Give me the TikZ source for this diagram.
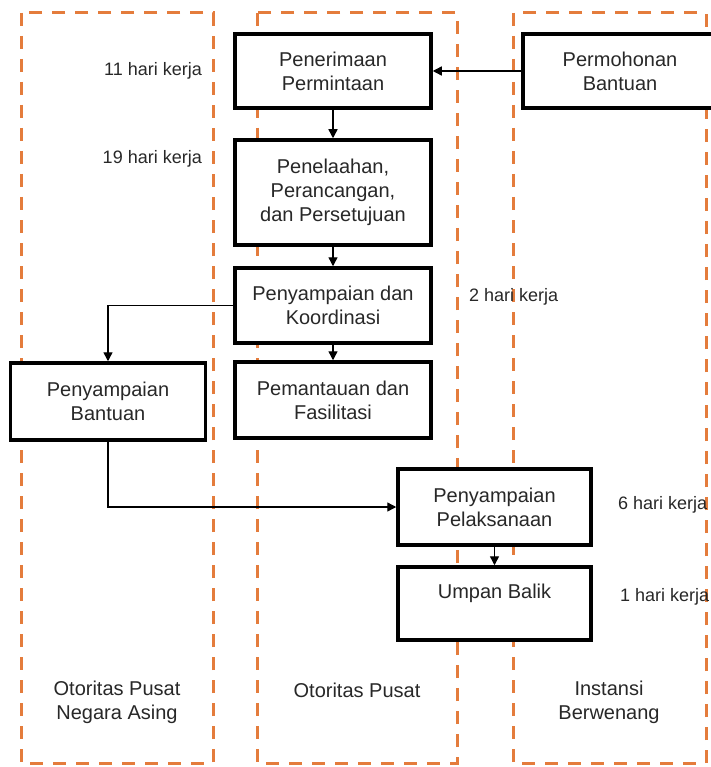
\documentclass[tikz,border=0pt]{standalone}
\usepackage{fontspec}
\setmainfont{Liberation Sans}
\usetikzlibrary{arrows.meta}
\definecolor{lanecol}{RGB}{228,124,60}
\definecolor{txtcol}{RGB}{40,40,40}
\begin{document}
\begin{tikzpicture}[x=1pt,y=-1pt,
  font=\fontsize{20}{24}\selectfont,
  lane/.style={draw=lanecol, line width=3pt, dash pattern=on 13pt off 10pt},
  procbox/.style={draw=black, line width=3.5pt, fill=white, text=txtcol,
    align=center, inner sep=0pt},
  tag/.style={text=txtcol, inner sep=0pt, font=\fontsize{18}{22}\selectfont},
  lanetitle/.style={text=txtcol, align=center, inner sep=0pt},
  flow/.style={draw=black, line width=1.4pt, -{Triangle[length=9pt,width=9pt]}}]
\useasboundingbox[fill=white] (0,0) rectangle (710,767);

% swimlanes
\draw[lane] (21,13) rectangle (213,763);
\draw[lane] (257,13) rectangle (457,763);
\draw[lane] (513,13) rectangle (706,763);

% process boxes
\node[procbox, minimum width=196pt, minimum height=74pt] (pen) at (333,71) {Penerimaan\\Permintaan};
\node[procbox, minimum width=194pt, minimum height=74pt] (moh) at (620,71) {Permohonan\\Bantuan};
\node[procbox, minimum width=196pt, minimum height=105pt] (tel) at (333,192.5) {Penelaahan,\\Perancangan,\\dan Persetujuan};
\node[procbox, minimum width=196pt, minimum height=75pt] (kor) at (333,305.5) {Penyampaian dan\\Koordinasi};
\node[procbox, minimum width=196pt, minimum height=76pt] (pem) at (333,400) {Pemantauan dan\\Fasilitasi};
\node[procbox, minimum width=195pt, minimum height=77pt] (ban) at (108,401.5) {Penyampaian\\Bantuan};
\node[procbox, minimum width=193pt, minimum height=76pt] (pel) at (494.5,507) {Penyampaian\\Pelaksanaan};
\node[procbox, minimum width=193pt, minimum height=73pt] (umb) at (494.5,603.5) {Umpan Balik\\\mbox{}};

% durations
\node[tag, anchor=east] (d1) at (202,71) {11 hari kerja};
\node[tag, anchor=east] (d2) at (202,159) {19 hari kerja};
\node[tag, anchor=west] (d3) at (469,297) {2 hari kerja};
\node[tag, anchor=west] (d4) at (618,505) {6 hari kerja};
\node[tag, anchor=west] (d5) at (620,597) {1 hari kerja};

% lane titles
\node[lanetitle] (t1) at (117,702) {Otoritas Pusat\\Negara Asing};
\node[lanetitle] (t2) at (357,690) {Otoritas Pusat};
\node[lanetitle] (t3) at (609,702) {Instansi\\Berwenang};

% connectors
\draw[flow] (moh.west) -- (pen.east);
\draw[flow] (pen.south) -- (tel.north);
\draw[flow] (tel.south) -- (kor.north);
\draw[flow] (kor.south) -- (pem.north);
\draw[flow] (kor.west) -| (ban.north);
\draw[flow] (ban.south) |- (pel.west);
\draw[flow] (pel.south) -- (umb.north);
\end{tikzpicture}
\end{document}
